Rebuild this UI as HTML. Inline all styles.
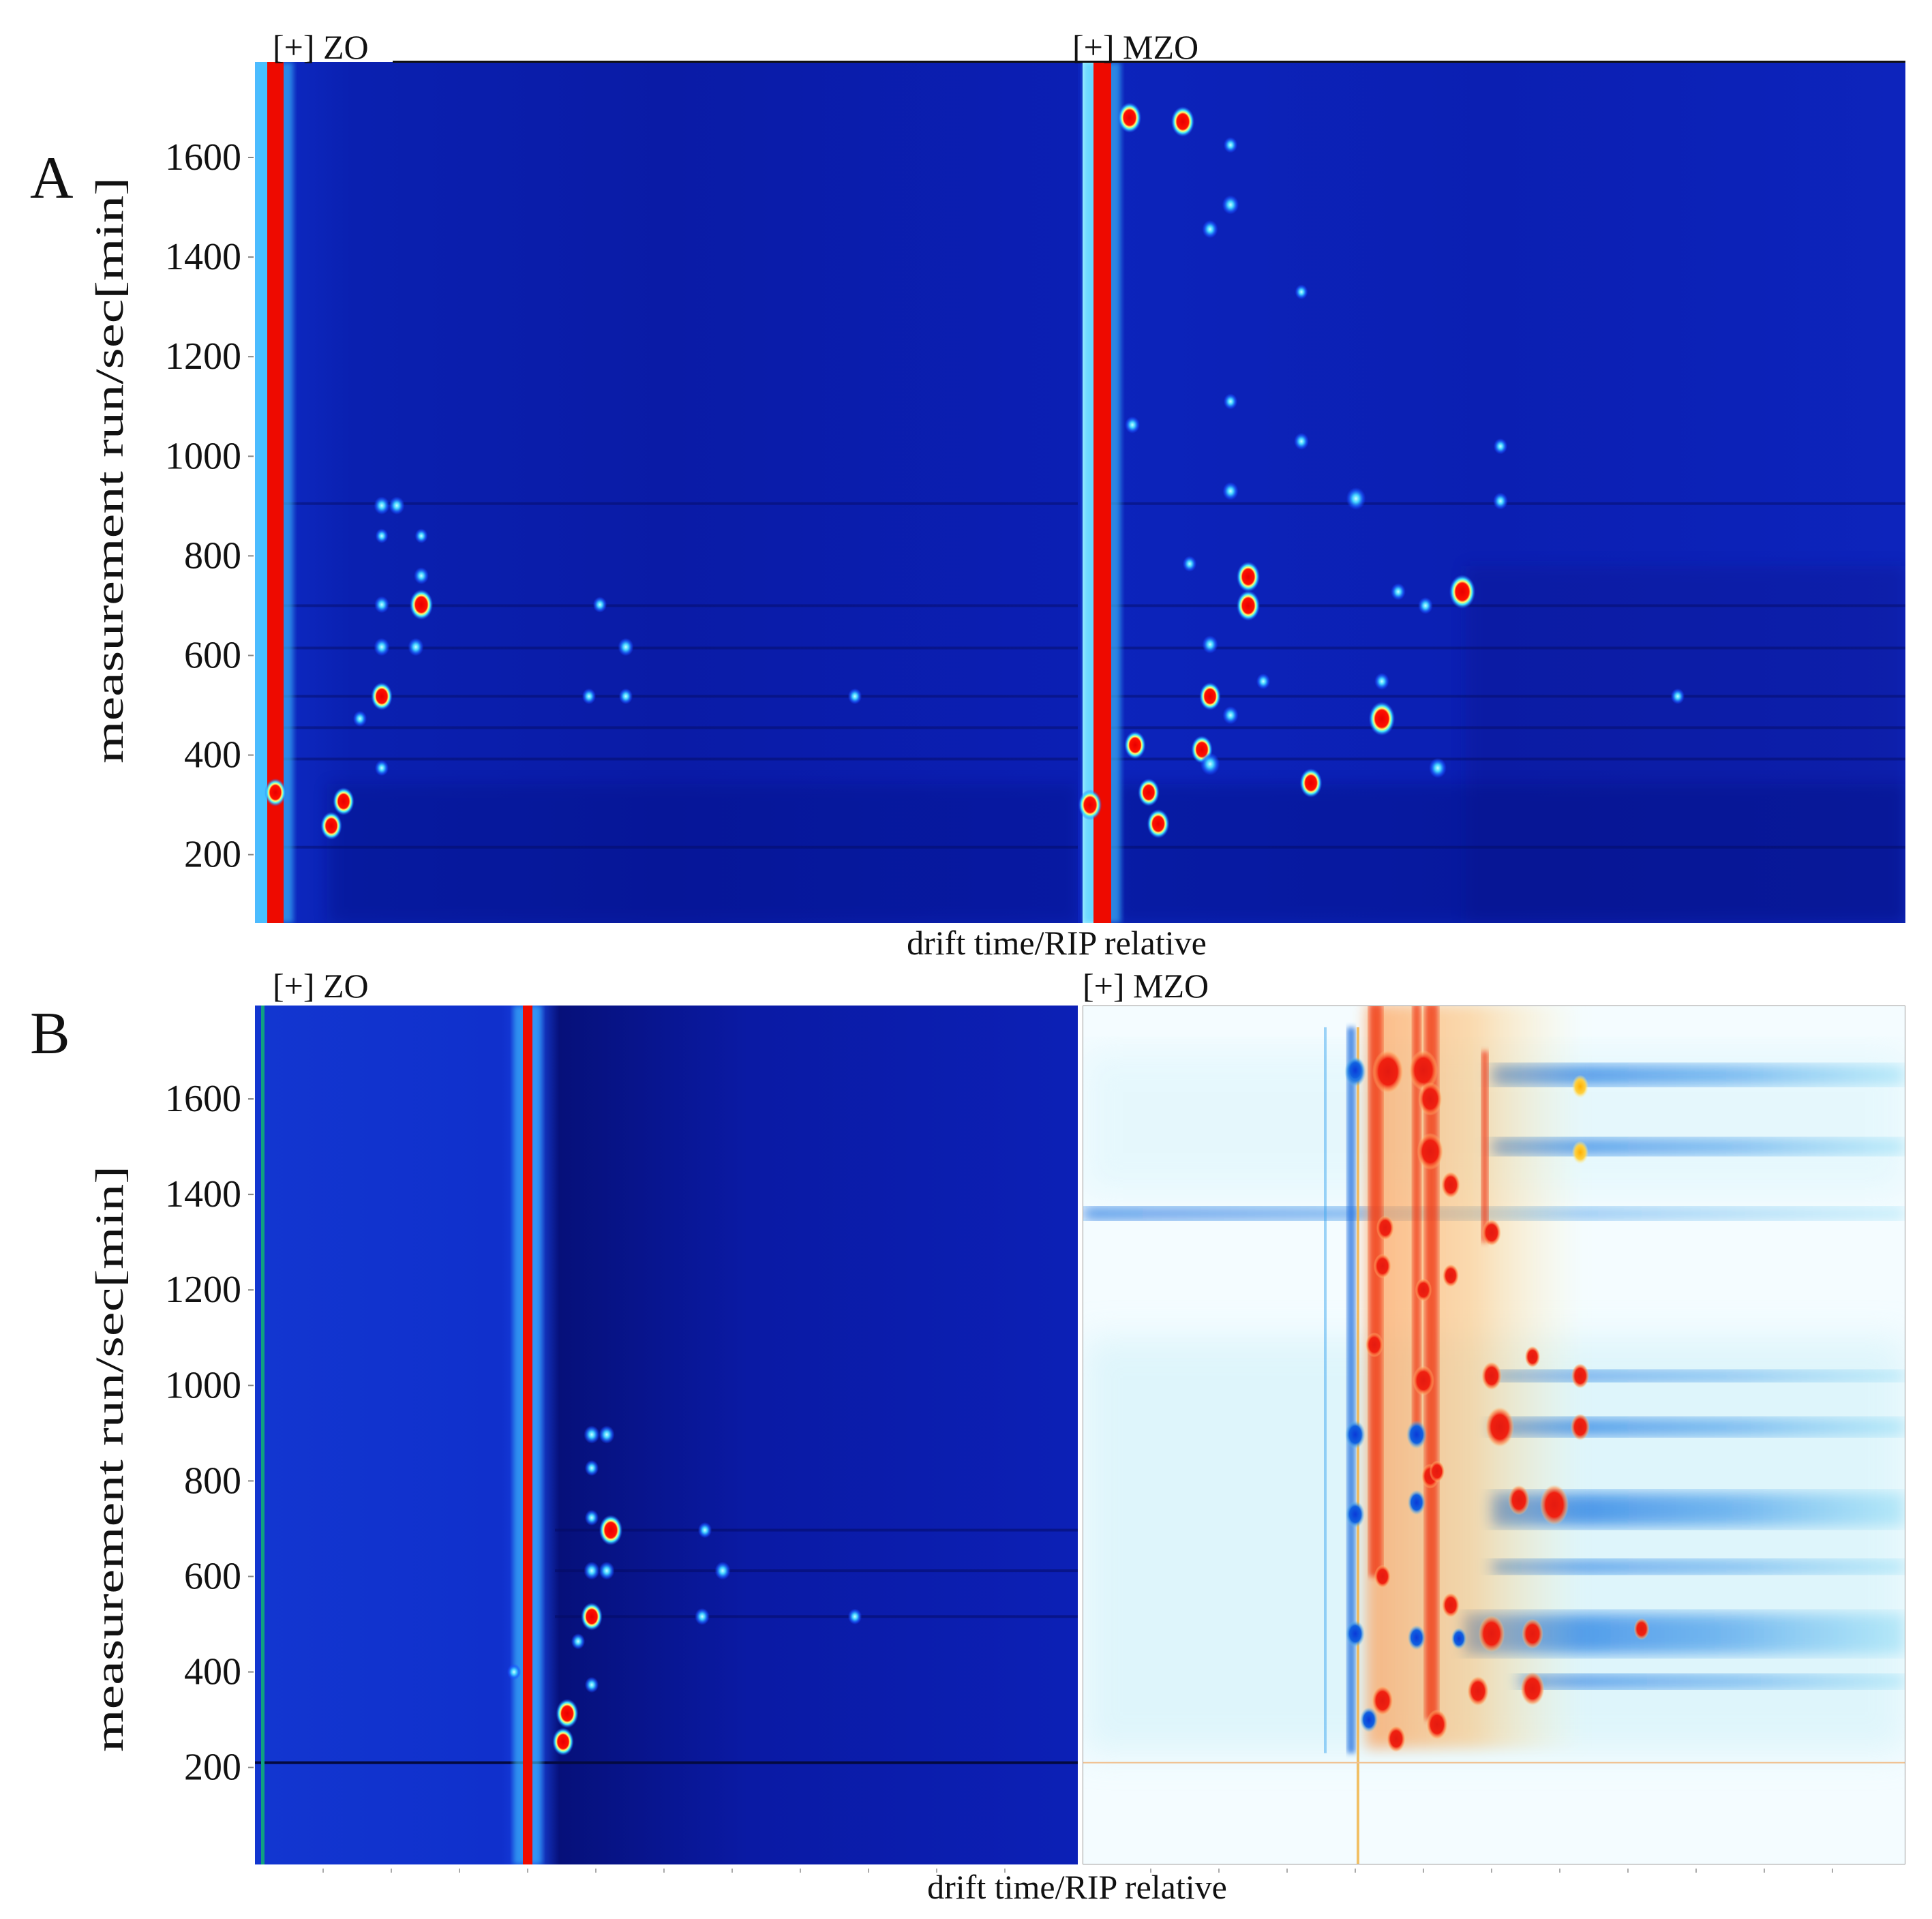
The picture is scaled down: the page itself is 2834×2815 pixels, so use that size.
<!DOCTYPE html>
<html><head><meta charset="utf-8"><style>
html,body{margin:0;padding:0;background:#fff}
svg{display:block}
text{font-family:"Liberation Serif",serif;fill:#111}
</style></head><body>
<svg id="fig" width="2834" height="2815" viewBox="0 0 2834 2815" xmlns="http://www.w3.org/2000/svg">
<defs>
<radialGradient id="hot"><stop offset="0" stop-color="#e80000"/><stop offset="0.5" stop-color="#ff1000"/><stop offset="0.62" stop-color="#ffff70"/><stop offset="0.75" stop-color="#40e8ff"/><stop offset="1" stop-color="#1a50ff" stop-opacity="0"/></radialGradient>
<radialGradient id="cool"><stop offset="0" stop-color="#c8ffff"/><stop offset="0.35" stop-color="#40d0ff"/><stop offset="0.7" stop-color="#1a60ff" stop-opacity="0.7"/><stop offset="1" stop-color="#1a40ff" stop-opacity="0"/></radialGradient>
<radialGradient id="dred"><stop offset="0" stop-color="#e41a10"/><stop offset="0.6" stop-color="#f02010"/><stop offset="0.85" stop-color="#ff9050" stop-opacity="0.6"/><stop offset="1" stop-color="#ffd090" stop-opacity="0"/></radialGradient>
<radialGradient id="dblue"><stop offset="0" stop-color="#0a3ad8"/><stop offset="0.6" stop-color="#1060e0"/><stop offset="1" stop-color="#60c8f0" stop-opacity="0"/></radialGradient>
<radialGradient id="dyel"><stop offset="0" stop-color="#ffb000"/><stop offset="0.6" stop-color="#ffd040"/><stop offset="1" stop-color="#fff0a0" stop-opacity="0"/></radialGradient>
<linearGradient id="bgA1" x1="0" x2="1"><stop offset="0" stop-color="#0e2cc8"/><stop offset="0.12" stop-color="#0a20b0"/><stop offset="0.5" stop-color="#0a1ba6"/><stop offset="1" stop-color="#0b1fb4"/></linearGradient>
<linearGradient id="bgA2" x1="0" x2="1"><stop offset="0" stop-color="#0c24bc"/><stop offset="0.5" stop-color="#0b1fb2"/><stop offset="1" stop-color="#0d24bc"/></linearGradient>
<linearGradient id="bgB1" x1="0" x2="1"><stop offset="0" stop-color="#1236d0"/><stop offset="0.3" stop-color="#1030cc"/><stop offset="0.34" stop-color="#1a48e8"/><stop offset="0.37" stop-color="#06107a"/><stop offset="0.6" stop-color="#0a1aa4"/><stop offset="1" stop-color="#0c20b6"/></linearGradient>
<linearGradient id="orng" x1="0" x2="1"><stop offset="0" stop-color="#ff9a50" stop-opacity="0.7"/><stop offset="0.5" stop-color="#ffc070" stop-opacity="0.55"/><stop offset="1" stop-color="#fff0b0" stop-opacity="0"/></linearGradient>
<linearGradient id="bband" x1="0" x2="1"><stop offset="0" stop-color="#1a70e0" stop-opacity="0.85"/><stop offset="0.6" stop-color="#3090e8" stop-opacity="0.6"/><stop offset="1" stop-color="#80d8f4" stop-opacity="0.45"/></linearGradient>
<filter id="blur4"><feGaussianBlur stdDeviation="4"/></filter>
<filter id="blur10"><feGaussianBlur stdDeviation="10"/></filter>
<filter id="blur25"><feGaussianBlur stdDeviation="25"/></filter>
<clipPath id="cA1"><rect x="374" y="91" width="1207" height="1263"/></clipPath>
<clipPath id="cA2"><rect x="1581" y="91" width="1214" height="1263"/></clipPath>
<clipPath id="cB1"><rect x="374" y="1475" width="1207" height="1260"/></clipPath>
<clipPath id="cB2"><rect x="1588" y="1475" width="1207" height="1260"/></clipPath>
</defs>
<g id="root"></g>
</svg>
<script>
// ---------- data ----------
const yTicks = [200,400,600,800,1000,1200,1400,1600];
const xTicks = [0.5,1.0,1.5,2.0,2.5,3.0,3.5,4.0,4.5,5.0,5.5];
// spots: [drift (RIP-rel units from panel origin), time (s), intensity]
const aLeftSpots = [[0.93,901,0.4],[1.04,901,0.4],[1.22,702,0.8],[1.22,760,0.35],[0.93,702,0.35],[0.93,617,0.4],[1.18,617,0.4],[0.93,518,0.7],[0.77,473,0.3],[2.72,617,0.4],[2.53,702,0.3],[2.45,518,0.3],[2.72,518,0.3],[4.4,518,0.3],[0.93,374,0.3],[0.65,307,0.7],[0.56,258,0.7],[0.15,325,0.7],[0.93,840,0.25],[1.22,840,0.25]];
const aRightSpots = [[0.38,1680,0.8],[0.77,1672,0.8],[0.97,1456,0.4],[1.12,1505,0.45],[1.12,1625,0.3],[1.64,1030,0.35],[1.12,930,0.4],[2.04,915,0.6],[1.25,758,0.8],[1.25,700,0.8],[2.82,728,0.95],[2.35,728,0.35],[2.55,700,0.35],[2.23,473,0.95],[2.23,548,0.35],[1.71,344,0.75],[2.64,374,0.5],[0.59,262,0.75],[0.91,411,0.7],[0.97,518,0.7],[1.12,480,0.4],[0.97,622,0.4],[0.4,1063,0.35],[4.4,518,0.3],[1.36,548,0.3],[0.82,784,0.3],[0.09,300,0.8],[0.52,325,0.7],[0.42,420,0.7],[0.97,382,0.6],[1.64,1330,0.25],[3.1,1020,0.3],[3.1,910,0.35],[1.12,1110,0.3]];
const bLeftSpots = [[2.47,897,0.4],[2.58,897,0.4],[2.47,827,0.3],[2.61,697,0.8],[2.47,723,0.3],[2.47,612,0.4],[2.58,612,0.4],[3.43,612,0.4],[3.3,697,0.3],[2.47,516,0.7],[3.28,516,0.35],[4.4,516,0.3],[2.37,464,0.3],[1.9,400,0.3],[2.47,373,0.3],[2.29,313,0.75],[2.26,254,0.7]];
// B right (difference map): [drift, time, magnitude, sign(+1 red, -1 blue, 0 yellow)]
const bRightSpots = [[2.24,1657,1.0,1],[2.5,1660,0.9,1],[2.55,1600,0.7,1],[2.55,1490,0.8,1],[2.7,1420,0.5,1],[3.0,1320,0.5,1],[2.22,1330,0.45,1],[2.2,1250,0.45,1],[2.5,1200,0.4,1],[2.7,1230,0.4,1],[3.65,1626,0.4,0],[3.65,1488,0.4,0],[3.06,913,0.9,1],[3.65,913,0.5,1],[3.65,1020,0.45,1],[3.3,1060,0.35,1],[3.0,1020,0.55,1],[3.46,750,0.9,1],[3.2,760,0.6,1],[2.14,1085,0.45,1],[2.55,810,0.45,1],[2.45,897,0.55,-1],[2.45,755,0.45,-1],[2.6,820,0.35,1],[2.45,472,0.45,-1],[2.76,470,0.35,-1],[2.2,600,0.4,1],[2.7,540,0.45,1],[3.0,480,0.8,1],[3.3,480,0.6,1],[3.3,365,0.7,1],[2.9,360,0.6,1],[2.2,340,0.6,1],[2.6,290,0.6,1],[2.3,260,0.5,1],[2.1,300,0.45,-1],[2.0,1657,0.6,-1],[2.0,897,0.55,-1],[2.0,730,0.5,-1],[2.0,480,0.5,-1],[4.1,490,0.35,1],[2.5,1010,0.6,1],[2.0,1660,0.45,-1]];
const streaksA = [905,700,615,518,455,392,215];
const bandsBRight = [[3.0,913,26],[3.0,740,50],[2.8,480,60],[3.0,1650,30],[3.0,1500,24],[3.0,1020,16],[3.0,620,20],[3.2,380,20],[0.0,1360,18]];

// ---------- helpers ----------
const NS='http://www.w3.org/2000/svg';
const root=document.getElementById('root');
function mk(tag,attrs,parent){const e=document.createElementNS(NS,tag);for(const k in attrs)e.setAttribute(k,attrs[k]);(parent||root).appendChild(e);return e;}
const panels={
 A1:{x0:374,x1:1581,top:91,bot:1354,y1600:231,k:146.1/200},
 A2:{x0:1581,x1:2795,top:91,bot:1354,y1600:231,k:146.1/200},
 B1:{x0:374,x1:1581,top:1475,bot:2735,y1600:1612,k:140.1/200},
 B2:{x0:1588,x1:2795,top:1475,bot:2735,y1600:1612,k:140.1/200}};
function xs(p,d){return p.x0+d*200;}
function ys(p,t){return p.y1600+(1600-t)*p.k;}

// ---------- backgrounds ----------
function panelBg(id,fill,name){const p=panels[id];const g=mk('g',{'clip-path':'url(#c'+id+')'});
 
 mk('rect',{x:p.x0,y:p.top,width:p.x1-p.x0,height:p.bot-p.top,fill:fill},g);return g;}

const gA1=panelBg('A1','url(#bgA1)','heatmap-a-zo');
const gA2=panelBg('A2','url(#bgA2)','heatmap-a-mzo');
const gB1=panelBg('B1','url(#bgB1)','heatmap-b-zo');
const gB2=panelBg('B2','#f4fcff','heatmap-b-mzo-difference');

mk('rect',{x:2150,y:830,width:645,height:524,fill:'#08168c',opacity:0.35,filter:'url(#blur10)'},gA2);
mk('rect',{x:1640,y:1150,width:1155,height:204,fill:'#06107a',opacity:0.35,filter:'url(#blur10)'},gA2);
mk('rect',{x:480,y:1150,width:1100,height:204,fill:'#06107a',opacity:0.3,filter:'url(#blur10)'},gA1);

// streaks in A
[['A1',gA1],['A2',gA2]].forEach(([id,g])=>{const p=panels[id];
 streaksA.forEach(t=>{const l=mk('rect',{x:p.x0+40,y:ys(p,t)-2,width:p.x1-p.x0,height:4,fill:'#040a60',opacity:0.45},g);
 });});
{const p=panels.B1;const l=mk('rect',{x:p.x0,y:ys(p,210)-2,width:1207,height:4,fill:'#040a40'},gB1);
 [697,612,516].forEach(t=>{const s=mk('rect',{x:xs(p,2.2),y:ys(p,t)-2,width:900,height:4,fill:'#040a60',opacity:0.5},gB1);});}

// RIP lines
function rip(id,g,d,w,topT){const p=panels[id];const x=xs(p,d);
 mk('rect',{x:x-w-14,y:p.top,width:w*2+28,height:p.bot-p.top,fill:'#40c8ff',opacity:0.6,filter:'url(#blur4)'},g);
 const r=mk('rect',{x:x-w,y:ys(p,topT),width:w*2,height:p.bot-ys(p,topT),fill:'#ee0a00'},g);
 }
mk('rect',{x:374,y:91,width:18,height:1263,fill:'#50b8ff'},gA1);
rip('A1',gA1,0.15,12,1800);
mk('rect',{x:1588,y:91,width:16,height:1263,fill:'#a8f0ff'},gA2);
rip('A2',gA2,0.18,13,1800);
mk('rect',{x:383,y:1475,width:5,height:1260,fill:'#10a080'},gB1);
rip('B1',gB1,2.0,7,1800);

// spots
function spot(p,g,s,name){const x=xs(p,s[0]),y=ys(p,s[1]);const r=6+14*s[2];
 const e=mk('ellipse',{cx:x,cy:y,rx:r,ry:r*(s[2]>=0.7?1.3:1.15),fill:s[2]>=0.7?'url(#hot)':'url(#cool)'},g);
 }
aLeftSpots.forEach(s=>spot(panels.A1,gA1,s,'peak-spot'));
aRightSpots.forEach(s=>spot(panels.A2,gA2,s,'peak-spot'));
bLeftSpots.forEach(s=>spot(panels.B1,gB1,s,'peak-spot'));

// B right difference map
{const p=panels.B2,g=gB2;
 mk('rect',{x:p.x0,y:ys(p,1100),width:1207,height:ys(p,230)-ys(p,1100),fill:'#cdf0f8',opacity:0.55,filter:'url(#blur25)'},g);
 mk('rect',{x:p.x0,y:ys(p,1700),width:1207,height:ys(p,1400)-ys(p,1700),fill:'#d8f4fb',opacity:0.5,filter:'url(#blur25)'},g);
 bandsBRight.forEach(b=>{const r=mk('rect',{x:xs(p,b[0]),y:ys(p,b[1])-b[2]/2,width:p.x1-xs(p,b[0]),height:b[2],fill:'url(#bband)',filter:'url(#blur10)'},g);
  });
 mk('rect',{x:xs(p,1.97)-6,y:ys(p,1750),width:12,height:ys(p,230)-ys(p,1750),fill:'#2070e0',opacity:0.8,filter:'url(#blur4)'},g);
 mk('rect',{x:xs(p,1.78)-2,y:ys(p,1750),width:4,height:ys(p,230)-ys(p,1750),fill:'#40a8f0',opacity:0.5},g);
 mk('rect',{x:xs(p,2.02)-2,y:ys(p,1750),width:4,height:1260,fill:'#f0b040',opacity:0.8},g);
 mk('rect',{x:xs(p,2.08),y:ys(p,1800),width:200*1.6,height:ys(p,240)-ys(p,1800),fill:'url(#orng)',filter:'url(#blur10)'},g);
 [[2.15,1800,600,10],[2.56,1800,300,10],[2.45,1800,900,6],[2.95,1700,1300,5]].forEach(v=>{const r=mk('rect',{x:xs(p,v[0])-v[3],y:ys(p,v[1]),width:v[3]*2,height:ys(p,v[2])-ys(p,v[1]),fill:'#f03010',opacity:0.75,filter:'url(#blur4)'},g);
  });
 bRightSpots.forEach(s=>{const x=xs(p,s[0]),y=ys(p,s[1]);const r=5+18*s[2];
  const e=mk('ellipse',{cx:x,cy:y,rx:r,ry:r*1.4,fill:s[3]>0?'url(#dred)':(s[3]<0?'url(#dblue)':'url(#dyel)')},g);
  });
 mk('rect',{x:p.x0,y:ys(p,210)-1,width:1207,height:2,fill:'#f0c090'},g);
 mk('rect',{x:p.x0,y:p.top,width:1207,height:1260,fill:'none',stroke:'#999',"stroke-width":2},g);
}

mk('rect',{x:576,y:89,width:2219,height:3,fill:'#111'});
// ---------- axes ----------
function yAxis(id,name){const p=panels[id];const g=mk('g',{});
 yTicks.forEach(t=>{const y=ys(p,t);if(y<p.top||y>p.bot)return;
  const tx=mk('text',{x:354,y:y+18,'text-anchor':'end','font-size':56},g);tx.textContent=t;
  
  mk('line',{x1:364,x2:372,y1:y,y2:y,stroke:'#888','stroke-width':2},g);});}
yAxis('A1','y-axis-a');yAxis('B1','y-axis-b');
function xTickMarks(id){const p=panels[id];xTicks.forEach(d=>{const x=xs(p,d);if(x>p.x1)return;
 const l=mk('line',{x1:x,x2:x,y1:p.bot+6,y2:p.bot+12,stroke:'#aaa','stroke-width':2});});}
xTickMarks('B1');xTickMarks('B2');

function label(txt,x,y,size,name,anchor,extra){const t=mk('text',Object.assign({x:x,y:y,'font-size':size,'text-anchor':anchor||'start'},extra||{}));t.textContent=txt;
 return t;}
label('A',44,290,88,'panel-label-a');
label('B',44,1545,88,'panel-label-b');
label('[+] ZO',400,86,50,'header-a-zo');
label('[+] MZO',1573,86,50,'header-a-mzo');
label('[+] ZO',400,1463,50,'header-b-zo');
label('[+] MZO',1588,1463,50,'header-b-mzo');
label('drift time/RIP relative',1550,1400,50,'x-axis-title-a','middle');
label('drift time/RIP relative',1580,2785,50,'x-axis-title-b','middle');
label('measurement run/sec[min]',180,690,58,'y-axis-title-a','middle',{transform:'rotate(-90 180 690)',textLength:860,lengthAdjust:'spacingAndGlyphs'});
label('measurement run/sec[min]',180,2140,58,'y-axis-title-b','middle',{transform:'rotate(-90 180 2140)',textLength:860,lengthAdjust:'spacingAndGlyphs'});
</script>
</body></html>
